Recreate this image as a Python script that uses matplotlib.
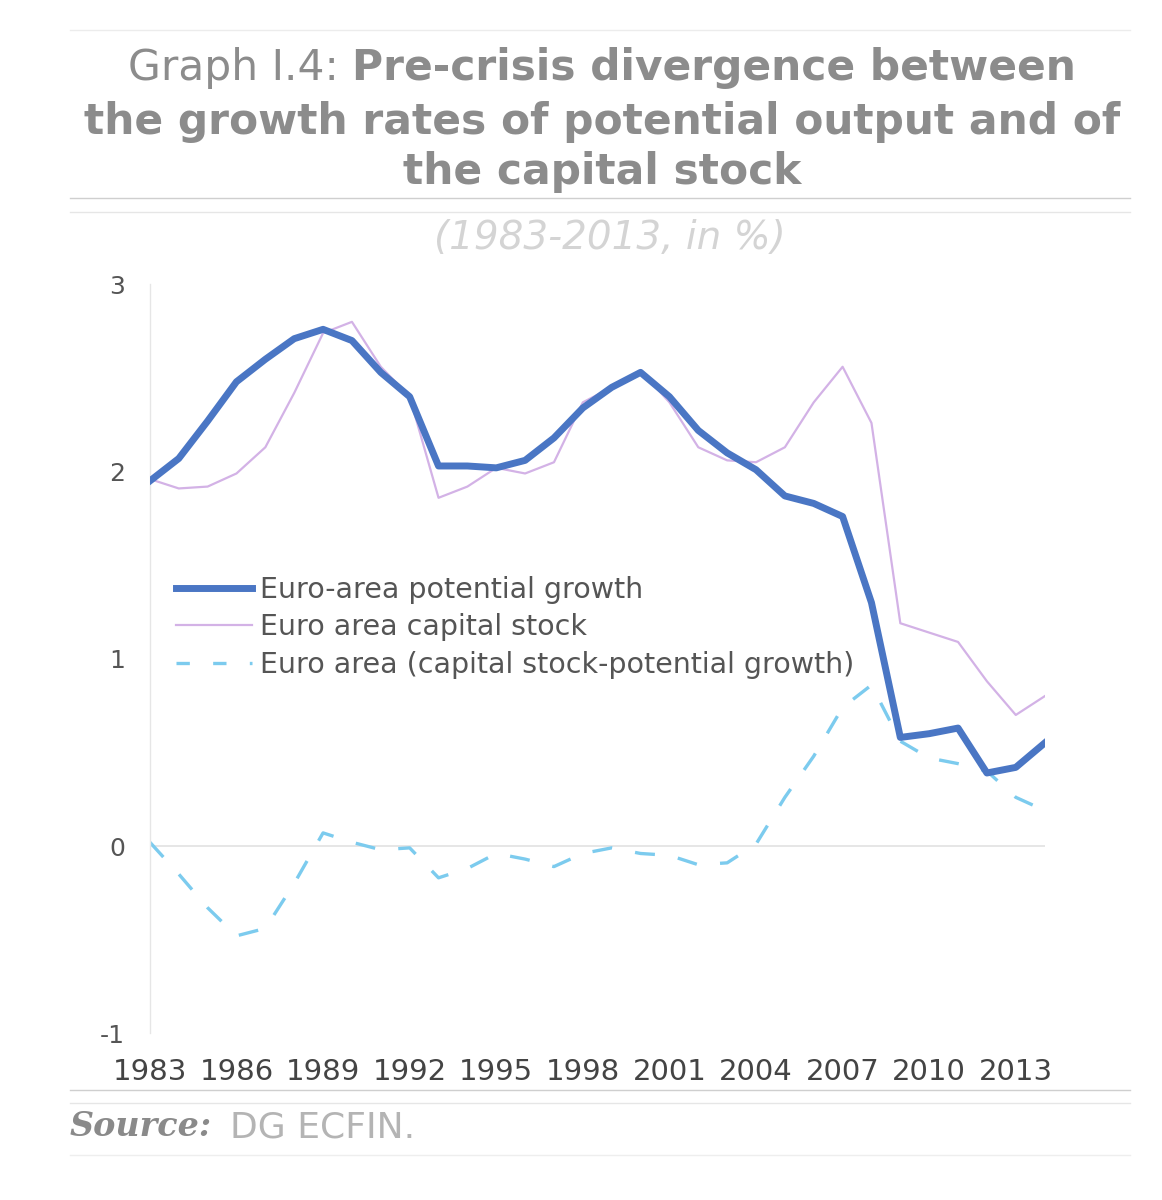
import matplotlib
matplotlib.use("Agg")
import matplotlib.pyplot as plt
from matplotlib.lines import Line2D

years = list(range(1983, 2015))
potential = [1.95, 2.07, 2.27, 2.48, 2.60, 2.71, 2.76, 2.70, 2.53, 2.40,
             2.03, 2.03, 2.02, 2.06, 2.18, 2.34, 2.45, 2.53, 2.40, 2.22,
             2.10, 2.01, 1.87, 1.83, 1.76, 1.30, 0.58, 0.60, 0.63, 0.39,
             0.42, 0.55]
capital = [1.96, 1.91, 1.92, 1.99, 2.13, 2.42, 2.74, 2.80, 2.56, 2.40,
           1.86, 1.92, 2.02, 1.99, 2.05, 2.37, 2.45, 2.54, 2.37, 2.13,
           2.06, 2.05, 2.13, 2.37, 2.56, 2.26, 1.19, 1.14, 1.09, 0.88,
           0.70, 0.80]
diff = [0.02, -0.15, -0.33, -0.48, -0.44, -0.20, 0.07, 0.02, -0.02, -0.01,
        -0.17, -0.12, -0.04, -0.07, -0.11, -0.04, -0.01, -0.04, -0.05, -0.10,
        -0.09, 0.01, 0.26, 0.48, 0.74, 0.86, 0.56, 0.47, 0.44, 0.40,
        0.26, 0.19]
xticks = list(range(1983, 2014, 3))
yticks = [-1, 0, 1, 2, 3]
series_labels = ["Euro-area potential growth", "Euro area capital stock",
                 "Euro area (capital stock-potential growth)"]

plt.rcParams['font.family'] = ['DejaVu Sans']

fig = plt.figure(figsize=(11.62, 12.0), dpi=100)
fig.patch.set_facecolor("white")
ax = fig.add_axes([0.129, 0.139, 0.770, 0.624])

c_pot = "#4a76c4"
c_cap = "#d3b2e6"
c_diff = "#7ccbee"

ax.axhline(0, color="#e2e2e2", lw=1.2, zorder=1)
ax.plot(years, potential, color=c_pot, lw=5.0, solid_joinstyle="round",
        zorder=3)
ax.plot(years, capital, color=c_cap, lw=1.6, zorder=2)
ax.plot(years, diff, color=c_diff, lw=2.4, dashes=(6, 7), zorder=2)

ax.set_xlim(1983, 2014)
ax.set_ylim(-1, 3)
ax.set_xticks(xticks)
ax.set_xticklabels([str(x) for x in xticks])
ax.set_yticks(yticks)
ax.set_yticklabels([str(y) for y in yticks])
ax.tick_params(axis="x", length=0, labelsize=21, colors="#444444", pad=18)
ax.tick_params(axis="y", length=0, labelsize=18, colors="#555555", pad=18)
for s in ["top", "right", "bottom"]:
    ax.spines[s].set_visible(False)
ax.spines["left"].set_color("#e6e6e6")
ax.spines["left"].set_linewidth(1.0)

handles = [Line2D([], [], color=c_pot, lw=5.0),
           Line2D([], [], color=c_cap, lw=1.6),
           Line2D([], [], color=c_diff, lw=2.4, dashes=(4, 7))]
leg = ax.legend(handles, series_labels, loc="upper left",
                bbox_to_anchor=(0.0, 0.645), frameon=False, fontsize=20.5,
                handlelength=2.7, handletextpad=0.25, labelspacing=0.33,
                labelcolor="#555555")

# Title
tc = "#8c8c8c"
fig.canvas.draw()
r = fig.canvas.get_renderer()
W = fig.get_figwidth() * fig.dpi
cx = 602
fs_t = 30.5
y1 = 1 - 68 / 1200
t_a = fig.text(0, y1, "Graph I.4: ", fontsize=fs_t, color=tc, va="center",
               ha="left")
t_b = fig.text(0, y1, "Pre-crisis divergence between", fontsize=fs_t,
               color=tc, va="center", ha="left", fontweight="bold")
wa = t_a.get_window_extent(r).width
wb = t_b.get_window_extent(r).width
start = cx - (wa + wb) / 2
t_a.set_x(start / W)
t_b.set_x((start + wa) / W)
fig.text(cx / W, 1 - 122 / 1200, "the growth rates of potential output and of",
         fontsize=fs_t, color=tc, va="center", ha="center", fontweight="bold")
fig.text(cx / W, 1 - 172 / 1200, "the capital stock",
         fontsize=fs_t, color=tc, va="center", ha="center", fontweight="bold")

# rules
for yy, col in [(30, "#ececec"), (198, "#cfcfcf"), (212, "#e6e6e6"),
                (1090, "#cfcfcf"), (1103, "#e6e6e6"), (1155, "#eeeeee")]:
    fig.add_artist(Line2D([70 / W, 1130 / W], [1 - yy / 1200, 1 - yy / 1200],
                          color=col, lw=1.0))

fig.text(610 / W, 1 - 238 / 1200, "(1983-2013, in %)", fontsize=28,
         color="#d4d4d4", style="italic", ha="center", va="center")

s1 = fig.text(70 / W, 1 - 1127 / 1200, "Source:", fontsize=24,
              family="DejaVu Serif", fontweight="bold", style="italic",
              color="#8a8a8a", va="center", ha="left")
ws = s1.get_window_extent(r).width
fig.text((70 + ws + 18) / W, 1 - 1127 / 1200, "DG ECFIN.", fontsize=26,
         color="#b4b4b4", va="center", ha="left")

fig.savefig("out.png", dpi=100, facecolor="white")
